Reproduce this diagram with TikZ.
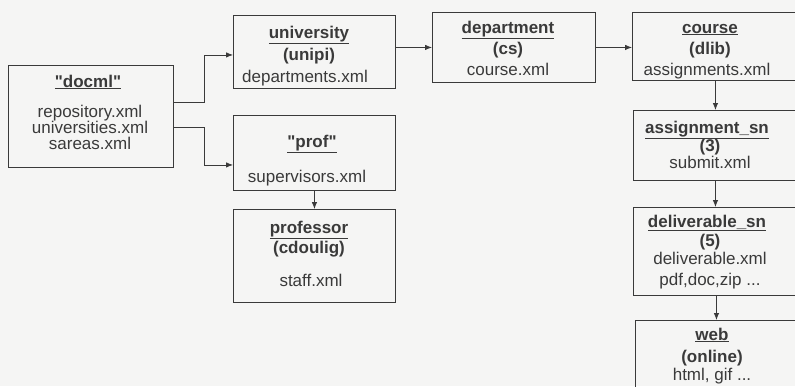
\documentclass[tikz,border=0pt]{standalone}
\usepackage{fontspec}
\setmainfont{Liberation Sans}
\usetikzlibrary{arrows.meta,calc}
\definecolor{ink}{HTML}{3A3A3A}
\definecolor{paper}{HTML}{F5F5F4}
\tikzset{
  box/.style={draw=ink, line width=0.9pt, anchor=north west, inner sep=0pt},
  txt/.style={text=ink, font=\fontsize{17}{18}\selectfont, inner sep=0pt, anchor=base},
  ttl/.style={txt, font=\fontsize{17}{18}\selectfont\bfseries},
  arr/.style={draw=ink, line width=0.8pt, -{Latex[length=7pt,width=5.5pt]}},
}
\newcommand{\ul}[1]{\underline{#1}}
% straight double quote, taken as a glyph so no text mapping curls it
\newcommand{\dq}{\XeTeXglyph\XeTeXcharglyph"22\relax}
\begin{document}
\begin{tikzpicture}[x=1pt, y=-1pt]
  \fill[paper] (0,0) rectangle (795,386);
  \useasboundingbox (0,0) rectangle (795,386);
  \begin{scope}
  \clip (0,0) rectangle (795,386);

  % boxes
  \node[box, minimum width=165pt, minimum height=102pt] (docml) at (8,65) {};
  \node[box, minimum width=162pt, minimum height=73pt] (univ) at (233,15) {};
  \node[box, minimum width=163pt, minimum height=70pt] (dept) at (432,12) {};
  \node[box, minimum width=166pt, minimum height=68pt] (course) at (632,12) {};
  \node[box, minimum width=162pt, minimum height=75pt] (prof) at (233,115) {};
  \node[box, minimum width=162pt, minimum height=93pt] (profr) at (233,209) {};
  \node[box, minimum width=164pt, minimum height=70pt] (assign) at (633,110) {};
  \node[box, minimum width=166pt, minimum height=88pt] (deliv) at (633,207) {};
  \node[box, minimum width=164pt, minimum height=90pt] (web) at (635,320) {};

  % texts
  \node[ttl] (t1) at (88,87) {\ul{\dq docml\dq}};
  \node[txt] (t1a) at (90,117) {repository.xml};
  \node[txt] (t1b) at (90,133) {universities.xml};
  \node[txt] (t1c) at (90,149) {sareas.xml};

  \node[ttl] (t2) at (309,38) {\ul{university}};
  \node[ttl] (t2a) at (309,60) {(unipi)};
  \node[txt] (t2b) at (305,82) {departments.xml};

  \node[ttl] (t3) at (508,33) {\ul{department}};
  \node[ttl] (t3a) at (508,54) {(cs)};
  \node[txt] (t3b) at (508,75) {course.xml};

  \node[ttl] (t4) at (710,33) {\ul{course}};
  \node[ttl] (t4a) at (710,54) {(dlib)};
  \node[txt] (t4b) at (707,75) {assignments.xml};

  \node[ttl] (t5) at (312,147) {\ul{\dq prof\dq}};
  \node[txt] (t5a) at (307,182) {supervisors.xml};

  \node[ttl] (t6) at (309,233) {\ul{professor}};
  \node[ttl] (t6a) at (309,253) {(cdoulig)};
  \node[txt] (t6b) at (311,286) {staff.xml};

  \node[ttl] (t7) at (707,133) {\ul{assignment\_sn}};
  \node[ttl] (t7a) at (710,151) {(3)};
  \node[txt] (t7b) at (710,168) {submit.xml};

  \node[ttl] (t8) at (707,227) {\ul{deliverable\_sn}};
  \node[ttl] (t8a) at (710,246) {(5)};
  \node[txt] (t8b) at (710,264) {deliverable.xml};
  \node[txt] (t8c) at (710,285) {pdf,doc,zip ...};

  \node[ttl] (t9) at (712,340) {\ul{web}};
  \node[ttl] (t9a) at (712,362) {(online)};
  \node[txt] (t9b) at (712,380) {html, gif ...};

  % connectors
  \draw[arr] ([yshift=14pt]docml.east) -- ++(30,0) |- ([yshift=-3pt]univ.west);
  \draw[arr] ([yshift=-11pt]docml.east) -- ++(30,0) |- ([yshift=-12pt]prof.west);
  \draw[arr] (univ.east |- dept.west) -- (dept.west);
  \draw[arr] (dept.east) -- (dept.east -| course.west);
  \draw[arr] (course.south) -- (course.south |- assign.north);
  \draw[arr] (assign.south) -- (assign.south |- deliv.north);
  \draw[arr] (deliv.south) -- (deliv.south |- web.north);
  \draw[arr] (prof.south) -- (prof.south |- profr.north);
  \end{scope}
\end{tikzpicture}
\end{document}
